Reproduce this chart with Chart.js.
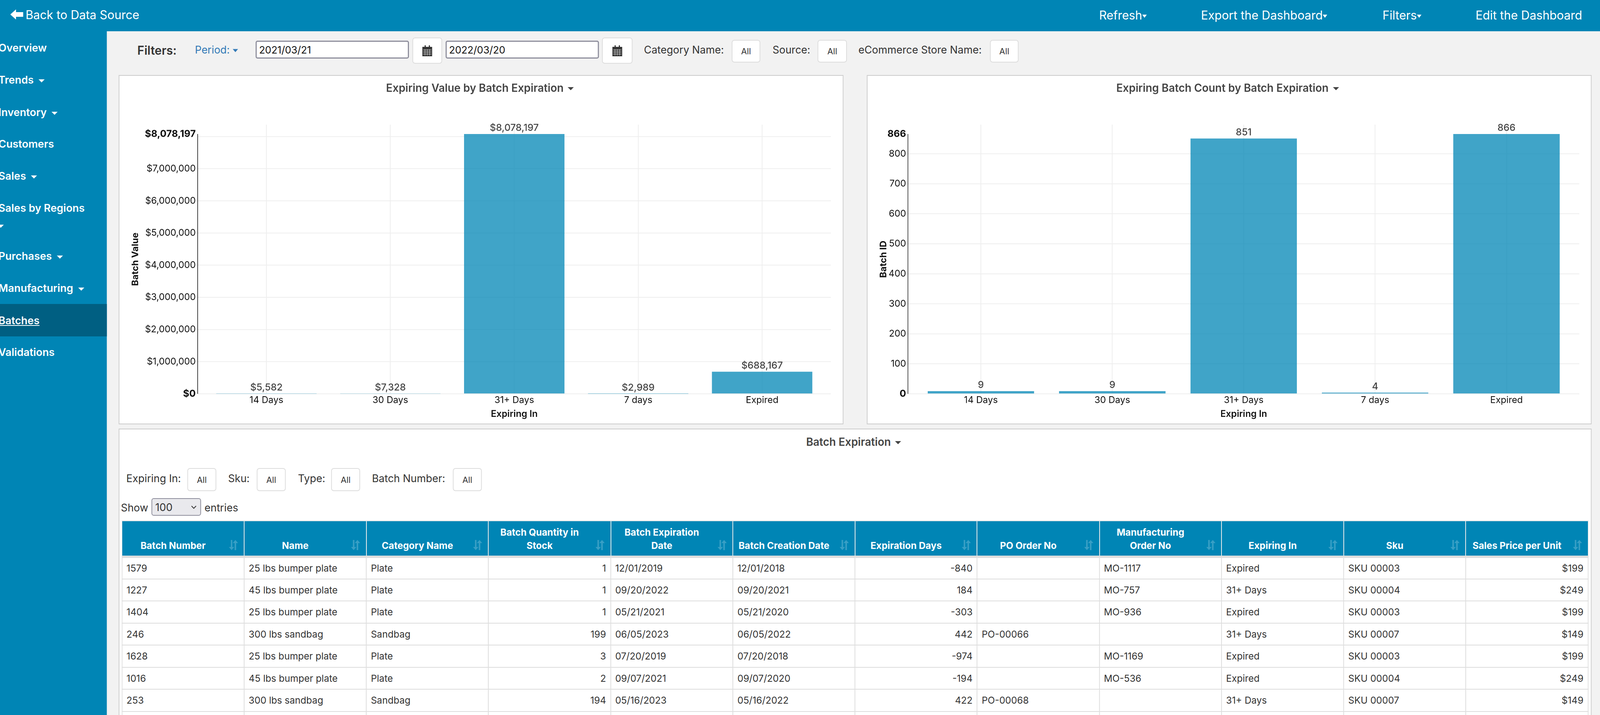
<!DOCTYPE html>
<html>
<head>
<meta charset="utf-8">
<title>Batch Expiration</title>
<script src="https://cdn.jsdelivr.net/npm/chart.js@4"></script>
<style>
  html, body { margin: 0; overflow: hidden; background: #f2f2f2; }
  #page { position: absolute; left: 0; top: 0; width: 4194px; height: 1830px; overflow: hidden; transform-origin: 0 0; background: #f2f2f2; font-family: Inter, sans-serif; color: #333; }
  .box { position: absolute; box-sizing: border-box; }
  .t { position: absolute; transform: translateY(-50%); white-space: nowrap; }
  .caret { display: inline-block; width: 0; height: 0; border-left: 8px solid transparent; border-right: 8px solid transparent; border-top: 8px solid currentColor; vertical-align: middle; }
  #topbar { left: 0; top: 0; width: 4194px; height: 80px; background: #0085b5; }
  #sidebar { left: 0; top: 80px; width: 280px; height: 1750px; background: #0085b5; }
  #topbar .t { color: #fff; font-size: 31px; }
  .side { color: #fff; font-size: 27.5px; font-weight: 600; }
  .panel { background: #fff; border: 2px solid #ccc; }
  .ptitle { font-size: 28.2px; font-weight: 600; color: #444; }
  .flabel { font-size: 27.2px; color: #333; }
  .allbtn { background: #fff; border: 2px solid #ddd; border-radius: 7px; font-size: 22px; color: #333; display: flex; align-items: center; justify-content: center; }
  .dateinput { background: #fff; border: 3px solid #8f8f9d; border-radius: 5px; font-size: 26px; color: #111; padding-left: 6px; display: flex; align-items: center; }
  .calbtn { background: #fff; border: 2px solid #ddd; border-radius: 7px; display: flex; align-items: center; justify-content: center; }
  canvas { position: absolute; }
  #tablewrap { left: 318.6px; top: 1332px; width: 3845px; height: 498px; overflow: hidden; }
  table { border-collapse: collapse; table-layout: fixed; width: 3845px; }
  th { background: #0085b5; color: #fff; font-size: 24.5px; font-weight: 700; height: 92px; line-height: 34px; vertical-align: bottom; padding: 0 62px 9px 10px; text-align: center; white-space: pre-line; border: 2px solid #e6e6e6; border-bottom: 6px solid #ddd; box-sizing: border-box; position: relative; }
  th svg { position: absolute; right: 15px; bottom: 14px; }
  td { font-size: 24.7px; color: #333; height: 56.5px; padding: 0 11px; border: 2px solid #ddd; box-sizing: border-box; white-space: nowrap; }
  td.num { text-align: right; }
</style>
</head>
<body>
<div id="page">
<div id="topbar" class="box">
  <svg class="box" style="left:27px;top:24px" width="34" height="26" viewBox="0 0 34 26"><path d="M0 13 L15 0 V7 H34 V19 H15 V26 Z" fill="#fff"/></svg>
  <div class="t" style="left:67px;top:37px">Back to Data Source</div>
  <div class="t" style="left:2881px;top:38px">Refresh<span class="caret" style="border-width:8px 6px 0"></span></div>
  <div class="t" style="left:3148px;top:38px">Export the Dashboard<span class="caret" style="border-width:8px 6px 0"></span></div>
  <div class="t" style="left:3624px;top:38px">Filters<span class="caret" style="border-width:8px 6px 0"></span></div>
  <div class="t" style="left:3868px;top:38px">Edit the Dashboard</div>
</div>
<div id="sidebar" class="box"></div>
<div class="box" style="left:0;top:778px;width:280px;height:83px;background:#005f82"></div>
<div id="sidenav"></div>

<div class="t" style="left:360px;top:128px;font-size:31px;font-weight:600">Filters:</div>
<div class="t" style="left:511px;top:127px;font-size:27.2px;color:#337ab7">Period: <span class="caret" style="border-width:8px 7px 0"></span></div>
<div class="box dateinput" style="left:670px;top:104px;width:402px;height:46px">2021/03/21</div>
<div class="box dateinput" style="left:1168px;top:104px;width:402px;height:46px">2022/03/20</div>
<div class="box calbtn" style="left:1081px;top:96px;width:78px;height:67px"><svg width="26" height="28" viewBox="0 0 26 28"><path d="M0 4 H26 V28 H0 Z M6 0 H9 V6 H6 Z M17 0 H20 V6 H17 Z" fill="#333"/><path d="M2 11 H24 M2 15 H24 M2 19 H24 M2 23 H24 M7 10 V26 M13 10 V26 M19 10 V26" stroke="#ddd" stroke-width="1"/></svg></div>
<div class="box calbtn" style="left:1578px;top:96px;width:80px;height:67px"><svg width="26" height="28" viewBox="0 0 26 28"><path d="M0 4 H26 V28 H0 Z M6 0 H9 V6 H6 Z M17 0 H20 V6 H17 Z" fill="#333"/><path d="M2 11 H24 M2 15 H24 M2 19 H24 M2 23 H24 M7 10 V26 M13 10 V26 M19 10 V26" stroke="#ddd" stroke-width="1"/></svg></div>
<div class="t flabel" style="left:1688px;top:127px">Category Name:</div>
<div class="box allbtn" style="left:1918px;top:102px;width:75px;height:58px">All</div>
<div class="t flabel" style="left:2025px;top:127px">Source:</div>
<div class="box allbtn" style="left:2143px;top:102px;width:77px;height:58px">All</div>
<div class="t flabel" style="left:2250px;top:127px">eCommerce Store Name:</div>
<div class="box allbtn" style="left:2595px;top:102px;width:75px;height:58px">All</div>

<div class="box panel" style="left:311px;top:192px;width:1900px;height:894px"></div>
<div class="box panel" style="left:2272px;top:192px;width:1900px;height:894px"></div>
<canvas id="valueChart" width="1899" height="892" style="left:311px;top:193px"></canvas>
<canvas id="countChart" width="1900" height="892" style="left:2272px;top:193px"></canvas>
<div class="t ptitle" style="left:1012px;top:225px">Expiring Value by Batch Expiration <span class="caret" style="border-width:8px 8px 0;margin-left:4px"></span></div>
<div class="t ptitle" style="left:2926px;top:225px">Expiring Batch Count by Batch Expiration <span class="caret" style="border-width:8px 8px 0;margin-left:4px"></span></div>

<div class="box panel" style="left:311px;top:1097px;width:3861px;height:760px"></div>
<div class="t ptitle" style="left:2113px;top:1131px">Batch Expiration <span class="caret" style="border-width:8px 8px 0;margin-left:4px"></span></div>
<div class="t flabel" style="left:331px;top:1224px">Expiring In:</div>
<div class="box allbtn" style="left:491px;top:1198px;width:76px;height:59px">All</div>
<div class="t flabel" style="left:598px;top:1224px">Sku:</div>
<div class="box allbtn" style="left:673px;top:1198px;width:76px;height:59px">All</div>
<div class="t flabel" style="left:781px;top:1224px">Type:</div>
<div class="box allbtn" style="left:868px;top:1198px;width:76px;height:59px">All</div>
<div class="t flabel" style="left:975px;top:1224px">Batch Number:</div>
<div class="box allbtn" style="left:1187px;top:1198px;width:76px;height:59px">All</div>
<div class="t flabel" style="left:317px;top:1299px">Show</div>
<div class="box" style="left:397px;top:1275px;width:130px;height:45px;background:#e9e9ed;border:2px solid #8f8f9d;border-radius:6px"></div>
<div class="t flabel" style="left:407px;top:1298px">100</div>
<svg class="box" style="left:501px;top:1294px" width="14" height="9" viewBox="0 0 14 9"><path d="M1 1 L7 7 L13 1" fill="none" stroke="#333" stroke-width="2"/></svg>
<div class="t flabel" style="left:536px;top:1299px">entries</div>

<div id="tablewrap" class="box"></div>
</div>

<script>
  // Chart values
  let categories = ['14 Days', '30 Days', '31+ Days', '7 days', 'Expired'];
  let batchValues = [5582, 7328, 8078197, 2989, 688167];
  let batchCounts = [9, 9, 851, 4, 866];
  let valueTicks = [0, 1000000, 2000000, 3000000, 4000000, 5000000, 6000000, 7000000, 8000000, 8078197];
  let countTicks = [0, 100, 200, 300, 400, 500, 600, 700, 800, 866];

  // Side menu: label, center y, has caret
  let sideLabels = ['Overview', 'Trends', 'Inventory', 'Customers', 'Sales', 'Sales by Regions', 'Purchases', 'Manufacturing', 'Batches', 'Validations'];
  let sideRows = [122, 204, 287, 368, 450, 532, 655, 737, 820, 901];
  let sideCarets = [false, true, true, false, true, false, true, true, false, false];

  // Table contents
  let tableColumns = ['Batch Number', 'Name', 'Category Name', 'Batch Quantity in\nStock', 'Batch Expiration\nDate', 'Batch Creation Date', 'Expiration Days', 'PO Order No', 'Manufacturing\nOrder No', 'Expiring In', 'Sku', 'Sales Price per Unit'];
  let rightAligned = [3, 6, 11];
  let tableRows = [
    ['1579', '25 lbs bumper plate', 'Plate', '1', '12/01/2019', '12/01/2018', '-840', '', 'MO-1117', 'Expired', 'SKU 00003', '$199'],
    ['1227', '45 lbs bumper plate', 'Plate', '1', '09/20/2022', '09/20/2021', '184', '', 'MO-757', '31+ Days', 'SKU 00004', '$249'],
    ['1404', '25 lbs bumper plate', 'Plate', '1', '05/21/2021', '05/21/2020', '-303', '', 'MO-936', 'Expired', 'SKU 00003', '$199'],
    ['246', '300 lbs sandbag', 'Sandbag', '199', '06/05/2023', '06/05/2022', '442', 'PO-00066', '', '31+ Days', 'SKU 00007', '$149'],
    ['1628', '25 lbs bumper plate', 'Plate', '3', '07/20/2019', '07/20/2018', '-974', '', 'MO-1169', 'Expired', 'SKU 00003', '$199'],
    ['1016', '45 lbs bumper plate', 'Plate', '2', '09/07/2021', '09/07/2020', '-194', '', 'MO-536', 'Expired', 'SKU 00004', '$249'],
    ['253', '300 lbs sandbag', 'Sandbag', '194', '05/16/2023', '05/16/2022', '422', 'PO-00068', '', '31+ Days', 'SKU 00007', '$149'],
    ['', '', '', '', '', '', '', '', '', '', '', '']
  ];

  // The browser window can come out narrower than the 4194px layout, so fit it to the width
  if (window.innerWidth < 4194) {
    document.getElementById('page').style.transform = 'scaleX(' + window.innerWidth / 4194 + ')';
  }

  Chart.defaults.font.family = 'Inter, sans-serif';

  let money = v => '$' + v.toLocaleString('en-US');
  let plain = v => v.toLocaleString('en-US');

  // Function to create one bar chart in a panel
  function drawChart(canvasId, values, ticks, yTitle, format, yWidth, rightPad) {
    let top = ticks[ticks.length - 1];
    let hidden = ticks.filter(v => v !== top && (top - v) / top < 0.02);

    // Thin y axis line that stops at the largest value, value labels above bars
    let extras = {
      id: 'extras',
      afterDatasetsDraw(chart) {
        let c = chart.ctx;
        let y = chart.scales.y;
        c.save();
        c.strokeStyle = '#444';
        c.lineWidth = 2;
        c.beginPath();
        c.moveTo(chart.chartArea.left, y.getPixelForValue(top));
        c.lineTo(chart.chartArea.left, y.getPixelForValue(0));
        c.stroke();
        c.font = '500 25px Inter, sans-serif';
        c.fillStyle = '#444';
        c.textAlign = 'center';
        c.textBaseline = 'bottom';
        chart.getDatasetMeta(0).data.forEach((bar, i) => {
          c.fillText(format(values[i]), bar.x, bar.y - 3);
        });
        c.restore();
      }
    };

    new Chart(document.getElementById(canvasId).getContext('2d'), {
      type: 'bar',
      data: {
        datasets: [{
          data: values.map((v, i) => ({ x: i, y: v })),
          backgroundColor: 'rgba(0, 133, 181, 0.75)',
          barPercentage: 0.81,
          categoryPercentage: 1
        }]
      },
      plugins: [extras],
      options: {
        responsive: false,
        animation: false,
        devicePixelRatio: 2,
        layout: { padding: { left: 30, right: rightPad, top: 126, bottom: 6 } },
        plugins: { legend: { display: false }, tooltip: { enabled: false } },
        scales: {
          x: {
            type: 'linear',
            offset: false,
            min: -0.555,
            max: 4.555,
            afterBuildTicks: s => { s.ticks = categories.map((c, i) => ({ value: i })); },
            afterFit: s => { s.height = 71; },
            border: { display: false },
            grid: { offset: false, color: '#eee', lineWidth: 2, drawTicks: false },
            ticks: { padding: 2, autoSkip: false, maxRotation: 0, color: '#111', font: { size: 24 }, callback: v => categories[v] },
            title: { display: true, text: 'Expiring In', color: '#111', padding: { top: 0, bottom: 5 }, font: { size: 24, weight: '600' } }
          },
          y: {
            min: 0,
            max: top * 1.036,
            afterBuildTicks: s => { s.ticks = ticks.map(v => ({ value: v })); },
            afterFit: s => { s.width = yWidth; },
            border: { display: false },
            grid: { color: ctx => ctx.tick && ctx.tick.value === top ? 'transparent' : '#eee', lineWidth: 2, drawTicks: false },
            ticks: {
              padding: 5,
              autoSkip: false,
              color: '#111',
              font: ctx => {
                let strong = ctx.tick && (ctx.tick.value === top || ctx.tick.value === 0);
                return { size: strong ? 25 : 24, weight: strong ? '700' : '400' };
              },
              callback: v => hidden.includes(v) ? '' : format(v)
            },
            title: { display: true, text: yTitle, color: '#111', padding: 0, font: { size: 23.5, weight: '700' } }
          }
        }
      }
    });
  }

  // Function to fill in the side menu
  function buildSideMenu() {
    let html = '';
    sideLabels.forEach((label, i) => {
      let text = label === 'Batches' ? '<u>' + label + '</u>' : label;
      let caret = sideCarets[i] ? ' <span class="caret" style="margin-left:6px"></span>' : '';
      html += '<div class="t side" style="left:-4px;top:' + sideRows[i] + 'px">' + text + caret + '</div>';
    });
    html += '<div class="t side" style="left:-6px;top:576px"><span class="caret"></span></div>';
    document.getElementById('sidenav').innerHTML = html;
  }

  // Function to fill in the table
  function buildTable() {
    let icon = '<svg width="24" height="26" viewBox="0 0 24 26"><path d="M5 0 H9 V18 H14 L7 26 L0 18 H5 Z M15 26 H19 V8 H24 L17 0 L10 8 H15 Z" fill="rgba(255,255,255,0.22)"/></svg>';
    let html = '<table><tr>' + tableColumns.map(c => '<th>' + c + icon + '</th>').join('') + '</tr>';
    tableRows.forEach(row => {
      html += '<tr>' + row.map((cell, i) => '<td class="' + (rightAligned.includes(i) ? 'num' : '') + '">' + cell + '</td>').join('') + '</tr>';
    });
    document.getElementById('tablewrap').innerHTML = html + '</table>';
  }

  buildSideMenu();
  buildTable();
  drawChart('valueChart', batchValues, valueTicks, 'Batch Value', money, 177, 32);
  drawChart('countChart', batchCounts, countTicks, 'Batch ID', plain, 78, 32);
</script>
</body>
</html>
